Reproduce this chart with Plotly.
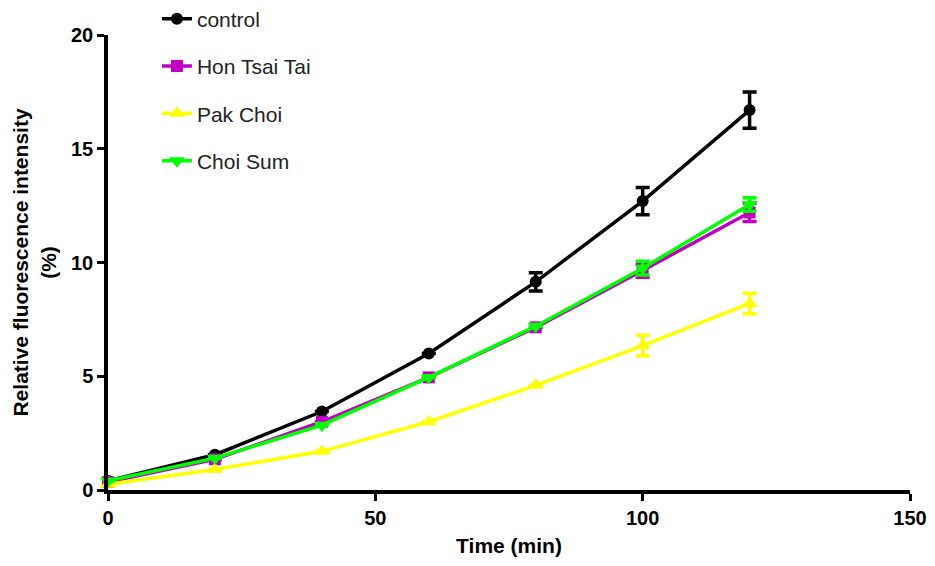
import plotly.graph_objects as go

time_min = [0, 20, 40, 60, 80, 100, 120]

# SEM bars shorter than the symbol are left undrawn (None)
control = [0.4, 1.55, 3.45, 6.0, 9.15, 12.7, 16.7]
control_err = [None, None, None, None, 0.4, 0.6, 0.8]

hon_tsai_tai = [0.35, 1.35, 3.0, 4.95, 7.15, 9.65, 12.2]
hon_tsai_tai_err = [None, None, None, None, None, 0.3, 0.4]

pak_choi = [0.25, 0.9, 1.7, 3.0, 4.6, 6.35, 8.2]
pak_choi_err = [None, None, None, None, None, 0.45, 0.45]

choi_sum = [0.4, 1.4, 2.85, 4.95, 7.2, 9.75, 12.55]
choi_sum_err = [None, None, None, None, None, 0.3, 0.3]

series = [
    ("control", control, control_err, "#000000", "circle", 12),
    ("Hon Tsai Tai", hon_tsai_tai, hon_tsai_tai_err, "#C000C0", "square", 12),
    ("Pak Choi", pak_choi, pak_choi_err, "#FFFF00", "triangle-up", 14),
    ("Choi Sum", choi_sum, choi_sum_err, "#00FF00", "triangle-down", 14),
]

fig = go.Figure()
for i, (name, vals, err, color, sym, msize) in enumerate(series):
    fig.add_trace(go.Scatter(
        x=time_min, y=vals, name=name, mode="lines+markers",
        line=dict(color=color, width=3.5),
        marker=dict(symbol=sym, size=msize, color=color),
        error_y=dict(type="data", array=err, visible=True,
                     color=color, thickness=3.5, width=7),
        legendgroup=f"g{i}",
        cliponaxis=False,
    ))

title_font = dict(family="Liberation Sans", size=21, color="#000000")
tick_font = dict(family="Liberation Sans", size=20, color="#000000", weight="bold")

fig.update_layout(
    width=935, height=566,
    margin=dict(l=108, r=25, t=35, b=76, autoexpand=False),
    plot_bgcolor="white", paper_bgcolor="white",
    showlegend=True,
    legend=dict(
        x=0.061, y=1.08, xanchor="left", yanchor="top",
        font=dict(family="Liberation Sans", size=21, color="#222222"),
        tracegroupgap=17, traceorder="grouped",
        bgcolor="rgba(0,0,0,0)",
    ),
    xaxis=dict(
        range=[0, 150], tickvals=[0, 50, 100, 150],
        showline=True, linecolor="black", linewidth=3.5,
        ticks="outside", ticklen=7, tickwidth=3, tickcolor="black",
        showgrid=False, zeroline=False,
        tickfont=tick_font,
        title=dict(text="<b>Time (min)</b>", font=title_font, standoff=12),
    ),
    yaxis=dict(
        range=[0, 20], tickvals=[0, 5, 10, 15, 20],
        showline=True, linecolor="black", linewidth=3.5,
        ticks="outside", ticklen=7, tickwidth=3, tickcolor="black",
        showgrid=False, zeroline=False,
        tickfont=tick_font,
        title=dict(text="<b>Relative fluorescence intensity<br>(%)</b>", font=title_font, standoff=10),
    ),
)

fig.write_html("out.html")
